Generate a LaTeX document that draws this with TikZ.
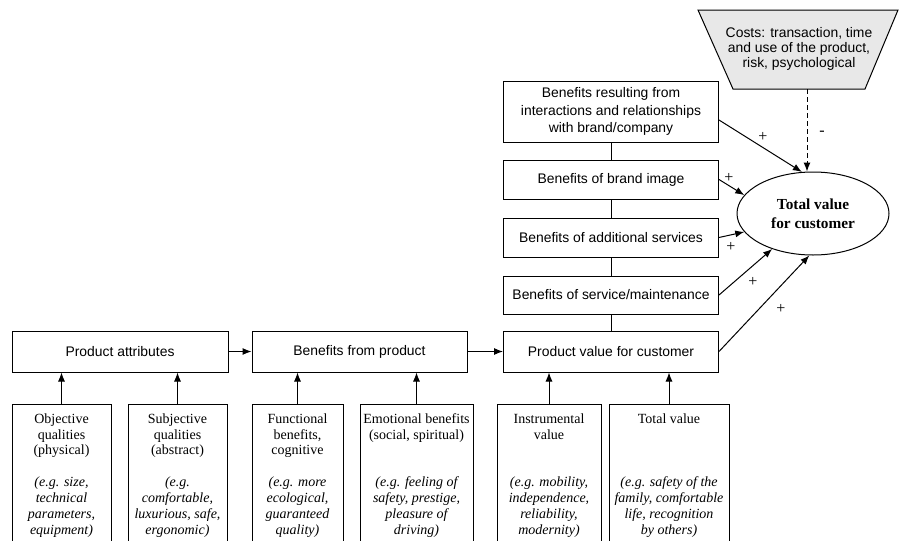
\documentclass[tikz,border=0pt]{standalone}
\usepackage{fontspec}
\setmainfont{Liberation Serif}
\setsansfont{Liberation Sans}
\usetikzlibrary{arrows.meta,shapes.geometric}
\begin{document}
\begin{tikzpicture}[x=1pt,y=-1pt,
  line width=1pt,
  box/.style={draw,rectangle,inner sep=0pt,minimum width=215,font=\sffamily\fontsize{13.9}{17.5}\selectfont,align=center},
  lowbox/.style={draw,rectangle,inner sep=0pt,anchor=north,minimum height=139},
  txt/.style={font=\fontsize{14}{15.5}\selectfont,align=center,anchor=base,inner sep=0pt},
  itxt/.style={font=\itshape\fontsize{14}{16}\selectfont,align=center,anchor=base,inner sep=0pt},
  arr/.style={-{Latex[length=9pt,width=7pt]}},
  plus/.style={font=\fontsize{16}{16}\selectfont,inner sep=0pt}]
\useasboundingbox (0,0) rectangle (900,541);

% main row
\node[box,minimum width=216,minimum height=41] (pa) at (120,351.5) {Product attributes};
\node[box,minimum height=41] (bp) at (359.5,351.5) {Benefits from product};
\node[box,minimum height=41] (pv) at (611,351.5) {Product value for customer};

% stack
\node[box,minimum height=61] (rel) at (611,111.5) {Benefits resulting from\\interactions and relationships\\with brand/company};
\node[box,minimum height=39] (img) at (611,179.5) {Benefits of brand image};
\node[box,minimum height=39] (add) at (611,237.5) {Benefits of additional services};
\node[box,minimum height=38] (svc) at (611,295) {Benefits of service/maintenance};

% total value
\node[draw,ellipse,minimum width=152,minimum height=83,inner sep=0pt,font=\bfseries\fontsize{15.3}{19}\selectfont,align=center] (tv) at (813,213.5) {Total value\\for customer};

% costs
\draw[fill=gray!18] (698,10) -- (898,10) -- (865,89) -- (733,89) -- cycle;
\node[font=\sffamily\fontsize{13.9}{15}\selectfont,align=center,inner sep=0pt] (cost) at (799,48.5) {Costs: transaction, time\\and use of the product,\\risk, psychological};
\coordinate (cb) at (807,89);
\draw[arr,dash pattern=on 5pt off 3pt] (cb) -- (tv.north -| cb);

% connectors
\draw[arr] (pa) -- (bp);
\draw[arr] (bp) -- (pv);
\draw (rel) -- (img);
\draw (img) -- (add);
\draw (add) -- (svc);
\draw (svc) -- (pv);
\draw[arr] ([yshift=-8.5pt]rel.east) -- (tv.105);
\draw[arr] (img.east) -- (tv.165);
\draw[arr] (add.east) -- (tv.195);
\draw[arr] (svc.east) -- (tv.221);
\draw[arr] (pv.east) -- (tv.265);

% signs
\node[plus] (p1) at (763,137) {+};
\node[plus] (p2) at (729,178) {+};
\node[plus] (p3) at (731,247) {+};
\node[plus] (p4) at (753,282) {+};
\node[plus] (p5) at (781,309) {+};
\node[plus] (m1) at (822,133) {-};

% bottom boxes
\node[lowbox,minimum width=99] (obj) at (61.5,404) {};
\node[lowbox,minimum width=99] (subj) at (177.5,404) {};
\node[lowbox,minimum width=91] (func) at (297.5,404) {};
\node[lowbox,minimum width=113] (emo) at (416.5,404) {};
\node[lowbox,minimum width=104] (instr) at (549,404) {};
\node[lowbox,minimum width=120] (tot) at (669,404) {};

\draw[arr] (obj.north) -- (obj.north |- pa.south);
\draw[arr] (subj.north) -- (subj.north |- pa.south);
\draw[arr] (func.north) -- (func.north |- bp.south);
\draw[arr] (emo.north) -- (emo.north |- bp.south);
\draw[arr] (instr.north) -- (instr.north |- pv.south);
\draw[arr] (tot.north) -- (tot.north |- pv.south);

% texts (base anchor = baseline of the last line)
\node[txt] (objt) at (61.5,454.5) {Objective\\qualities\\(physical)};
\node[itxt] (obji) at (61.5,534.5) {(e.g. size,\\technical\\parameters,\\equipment)};
\node[txt] (subjt) at (177.5,454.5) {Subjective\\qualities\\(abstract)};
\node[itxt] (subji) at (177.5,534.5) {(e.g.\\comfortable,\\luxurious, safe,\\ergonomic)};
\node[txt] (funct) at (297.5,454.5) {Functional\\benefits,\\cognitive};
\node[itxt] (funci) at (297.5,534.5) {(e.g. more\\ecological,\\guaranteed\\quality)};
\node[txt] (emot) at (416.5,439) {Emotional benefits\\(social, spiritual)};
\node[itxt] (emoi) at (416.5,534.5) {(e.g. feeling of\\safety, prestige,\\pleasure of\\driving)};
\node[txt] (instrt) at (549,439) {Instrumental\\value};
\node[itxt] (instri) at (549,534.5) {(e.g. mobility,\\independence,\\reliability,\\modernity)};
\node[txt] (tott) at (669,423.5) {Total value};
\node[itxt] (toti) at (669,534.5) {(e.g. safety of the\\family, comfortable\\life, recognition\\by others)};
\end{tikzpicture}
\end{document}
